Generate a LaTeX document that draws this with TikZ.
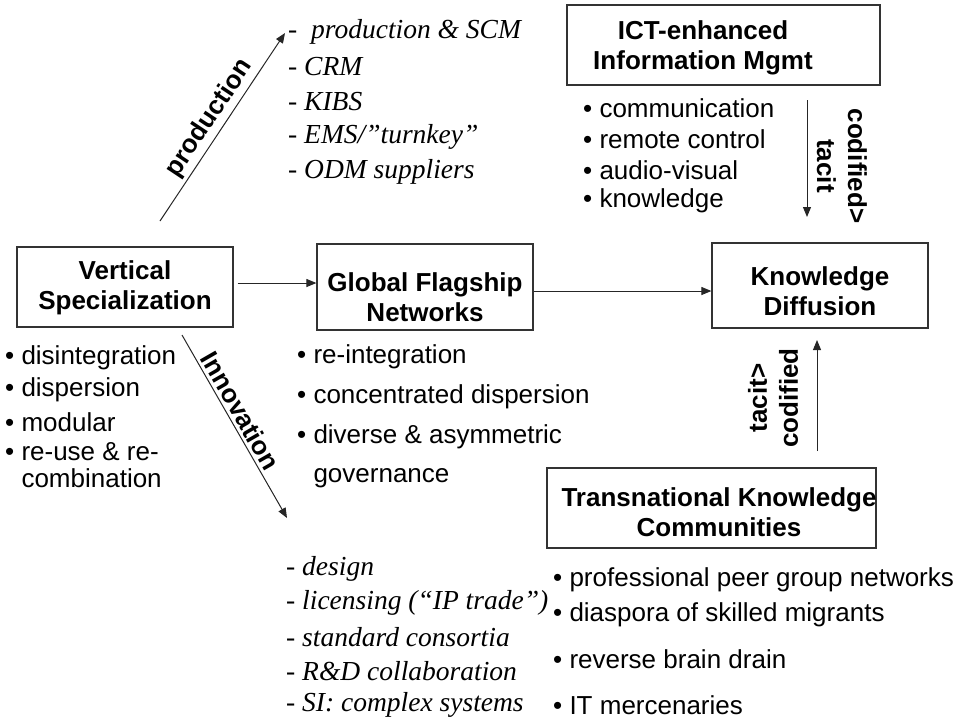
\documentclass[tikz,border=0pt]{standalone}
\usepackage{fontspec}
\setmainfont{Liberation Sans}
\newfontfamily\tms{Liberation Serif}
\usetikzlibrary{arrows.meta}
\begin{document}
\begin{tikzpicture}[x=1pt,y=-1pt,
  box/.style={draw=black!80, line width=1.2pt, inner sep=0pt},
  ttl/.style={font=\fontsize{26}{30}\selectfont\bfseries, align=center, inner sep=0pt},
  itm/.style={font=\fontsize{26}{30}\selectfont, anchor=west, inner sep=0pt},
  ita/.style={font=\fontsize{27.5}{32}\selectfont\tms\itshape, anchor=west, inner sep=0pt},
  arr/.style={-{Triangle[length=10pt,width=8pt]}, line width=1pt, draw=black!85},
  vlab/.style={font=\fontsize{26}{31}\selectfont\bfseries, align=center, inner sep=0pt},
  slab/.style={font=\fontsize{26}{30}\selectfont\bfseries, sloped, above, inner sep=3pt}
]
\useasboundingbox (0,0) rectangle (965,721);

% boxes
\node[box, minimum width=216pt, minimum height=80pt] (vs) at (125,287) {};
\node[box, minimum width=216pt, minimum height=86pt] (gfn) at (425,287) {};
\node[box, minimum width=216pt, minimum height=85pt] (kd) at (820,285.5) {};
\node[box, minimum width=313pt, minimum height=80pt] (ict) at (723.5,45) {};
\node[box, minimum width=329pt, minimum height=80pt] (tkc) at (711.5,508) {};

% titles
\node[ttl] (vst) at (125,288) {Vertical\\Specialization};
\node[ttl] (gfnt) at (425,297) {Global Flagship\\Networks};
\node[ttl] (kdt) at (820,291) {Knowledge\\Diffusion};
\node[ttl] (ictt) at (703,48) {ICT-enhanced\\Information Mgmt};
\node[ttl] (tkct) at (719,512) {Transnational Knowledge\\Communities};

% vertical specialization bullets
\node[itm] (vs1) at (5,358) {• disintegration};
\node[itm] (vs2) at (5,390) {• dispersion};
\node[itm] (vs3) at (5,422) {• modular};
\node[itm] (vs4) at (5,452) {• re-use \& re-};
\node[itm] (vs5) at (5,478) {\phantom{• }combination};

% global flagship bullets
\node[itm] (g1) at (297,357) {• re-integration};
\node[itm] (g2) at (297,397) {• concentrated dispersion};
\node[itm] (g3) at (297,437) {• diverse \& asymmetric};
\node[itm] (g4) at (297,478) {\phantom{• }governance};

% ICT bullets
\node[itm] (i1) at (583,108) {• communication};
\node[itm] (i2) at (583,139) {• remote control};
\node[itm] (i3) at (583,170) {• audio-visual};
\node[itm] (i4) at (583,201) {• knowledge};

% TKC bullets
\node[itm] (t1) at (553,580) {• professional peer group networks};
\node[itm] (t2) at (553,615) {• diaspora of skilled migrants};
\node[itm] (t3) at (553,659) {• reverse brain drain};
\node[itm] (t4) at (553,705) {• IT mercenaries};

% production list
\node[ita] (p1) at (288,32) {-~~production \& SCM};
\node[ita] (p2) at (288,67) {- CRM};
\node[ita] (p3) at (288,102) {- KIBS};
\node[ita] (p4) at (288,137) {- EMS/”turnkey”};
\node[ita] (p5) at (288,172) {- ODM suppliers};

% innovation list
\node[ita] (n1) at (286,569) {- design};
\node[ita] (n2) at (286,603) {- licensing (“IP trade”)};
\node[ita] (n3) at (286,637) {- standard consortia};
\node[ita] (n4) at (286,671) {- R\&D collaboration};
\node[ita] (n5) at (286,705) {- SI: complex systems};

% connector end points
\coordinate (pa) at (160,221);
\coordinate (pb) at (285,33);
\coordinate (ia) at (182,335);
\coordinate (ib) at (287,518);
\coordinate (y283) at (0,283);
\coordinate (y291) at (0,291);
\coordinate (ca) at (807,100);
\coordinate (cb) at (807,217);
\coordinate (ta) at (817,451);
\coordinate (tb) at (817,340);

% connectors
\draw[arr] (pa) -- node[slab, pos=0.5] (plab) {production} (pb);
\draw[arr] (ia) -- node[slab, pos=0.45] (ilab) {Innovation} (ib);
\draw[arr] ([xshift=4pt]vs.east |- y283) -- (gfn.west |- y283);
\draw[arr] (gfn.east |- y291) -- (kd.west |- y291);
\draw[arr] (ca) -- (cb);
\draw[arr] (ta) -- (tb);

% rotated labels
\node[vlab, rotate=-90] (ct) at (842,166) {codified>\\tacit};
\node[vlab, rotate=90] (tc) at (773,398) {tacit>\\codified};
\end{tikzpicture}
\end{document}
